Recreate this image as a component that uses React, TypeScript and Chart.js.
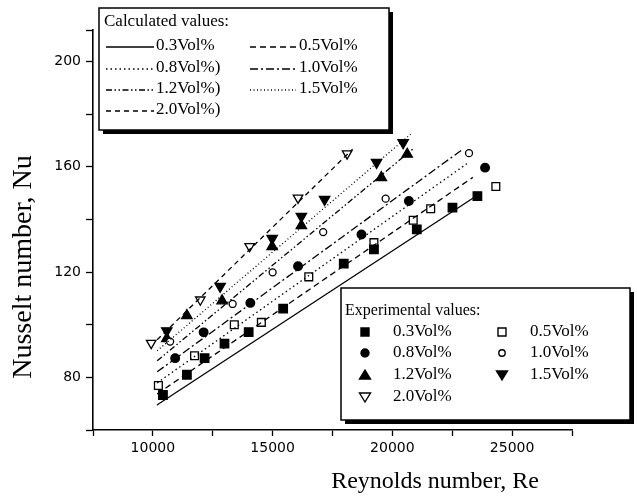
import React, { useEffect, useRef } from 'react';
import { Chart, registerables } from 'chart.js';

Chart.register(...registerables);

const SERIF = '"Liberation Serif", "Times New Roman", serif';
const SANS = '"DejaVu Sans", sans-serif';

// ---- Experimental values (Re, Nu) ----
const re03 = [10420, 11420, 12160, 12990, 14000, 15440, 17970, 19230, 21020, 22510, 23550];
const nu03 = [73.3, 81.0, 87.3, 92.8, 97.2, 106.1, 123.2, 128.6, 136.2, 144.5, 148.9];

const re05 = [10230, 11740, 13400, 14530, 16510, 19230, 20870, 21600, 24320];
const nu05 = [76.9, 88.2, 100.0, 100.9, 118.2, 131.2, 139.7, 144.1, 152.5];

const re08 = [10930, 12120, 14070, 16060, 18710, 20690, 23870];
const nu08 = [87.3, 97.1, 108.3, 122.2, 134.3, 147.0, 159.7];

const re10 = [10720, 13330, 15000, 17110, 19720, 23200];
const nu10 = [93.6, 107.9, 119.9, 135.2, 147.9, 165.2];

const re12 = [10580, 11420, 12890, 14980, 16200, 19540, 20620];
const nu12 = [94.7, 103.5, 109.1, 129.7, 137.7, 155.9, 164.8];

const re15 = [10580, 12810, 14980, 16200, 17170, 19340, 20450];
const nu15 = [97.7, 114.6, 132.8, 141.2, 147.6, 161.7, 169.2];

const re20 = [9930, 11980, 14040, 16060, 18110];
const nu20 = [93.0, 109.5, 129.8, 148.2, 165.0];

// ---- Calculated values (line end points) ----
const calcRe03 = [10170, 23550];
const calcNu03 = [69.5, 149.2];
const calcRe05 = [10180, 23360];
const calcNu05 = [73.7, 156.0];
const calcRe08 = [10180, 23190];
const calcNu08 = [77.9, 161.7];
const calcRe10 = [10180, 22940];
const calcNu10 = [82.1, 166.7];
const calcRe12 = [10180, 20850];
const calcNu12 = [86.3, 166.7];
const calcRe15 = [10180, 20760];
const calcNu15 = [90.1, 172.4];
const calcRe20 = [10180, 18340];
const calcNu20 = [94.3, 166.7];

// ---- Axis ticks ----
const xMin = 7500;
const xMax = 27500;
const xStep = 2500;
const xLabels = [10000, 15000, 20000, 25000];
const yMin = 60;
const yMax = 212;
const yStep = 20;
const yLabels = [80, 120, 160, 200];

// ---- Legend texts ----
const calcTitle = 'Calculated values:';
const calcCol1 = ['0.3Vol%', '0.8Vol%)', '1.2Vol%)', '2.0Vol%)'];
const calcCol2 = ['0.5Vol%', '1.0Vol%', '1.5Vol%'];
const expTitle = 'Experimental values:';
const expCol1 = ['0.3Vol%', '0.8Vol%', '1.2Vol%', '2.0Vol%'];
const expCol2 = ['0.5Vol%', '1.0Vol%', '1.5Vol%'];

// ---- Styles ----
const DASH: Record<string, number[]> = {
  c03: [],
  c05: [6, 4],
  c08: [1.5, 3],
  c10: [8, 3, 2, 3],
  c12: [6, 2.5, 1.5, 2.5, 1.5, 2.5],
  c15: [1, 2.5],
  c20: [5, 4],
};

const pts = (xs: number[], ys: number[]) => xs.map((x, i) => ({ x, y: ys[i] }));

type MarkerKind = 'sq' | 'osq' | 'ci' | 'oci' | 'tu' | 'td' | 'otd';

function drawMarker(ctx: CanvasRenderingContext2D, kind: MarkerKind, x: number, y: number, r: number) {
  ctx.save();
  ctx.lineWidth = 1.4;
  ctx.strokeStyle = '#000';
  ctx.fillStyle = '#000';
  ctx.setLineDash([]);
  ctx.beginPath();
  if (kind === 'sq' || kind === 'osq') {
    ctx.rect(x - r, y - r, 2 * r, 2 * r);
  } else if (kind === 'ci' || kind === 'oci') {
    ctx.arc(x, y, r, 0, Math.PI * 2);
  } else if (kind === 'tu') {
    ctx.moveTo(x, y - r);
    ctx.lineTo(x + r * 1.1, y + r * 0.8);
    ctx.lineTo(x - r * 1.1, y + r * 0.8);
    ctx.closePath();
  } else {
    ctx.moveTo(x, y + r);
    ctx.lineTo(x + r * 1.1, y - r * 0.8);
    ctx.lineTo(x - r * 1.1, y - r * 0.8);
    ctx.closePath();
  }
  if (kind === 'osq' || kind === 'oci' || kind === 'otd') {
    ctx.fillStyle = '#fff';
    ctx.fill();
    ctx.stroke();
  } else {
    ctx.fill();
    ctx.stroke();
  }
  ctx.restore();
}

function drawBox(ctx: CanvasRenderingContext2D, x: number, y: number, w: number, h: number) {
  ctx.save();
  ctx.fillStyle = '#000';
  ctx.fillRect(x + 4, y + 4, w, h);
  ctx.fillStyle = '#fff';
  ctx.fillRect(x, y, w, h);
  ctx.strokeStyle = '#000';
  ctx.lineWidth = 1.5;
  ctx.strokeRect(x, y, w, h);
  ctx.restore();
}

const decorPlugin = {
  id: 'decor',
  beforeDraw(chart: any) {
    const ctx = chart.ctx as CanvasRenderingContext2D;
    ctx.save();
    ctx.fillStyle = '#fff';
    ctx.fillRect(0, 0, chart.width, chart.height);
    ctx.restore();
  },
  afterDraw(chart: any) {
    const ctx = chart.ctx as CanvasRenderingContext2D;
    ctx.save();
    ctx.fillStyle = '#000';
    ctx.textBaseline = 'middle';

    // axis titles
    ctx.textAlign = 'center';
    ctx.font = `24px ${SERIF}`;
    ctx.fillText('Reynolds number, Re', 435, 482);
    ctx.save();
    ctx.translate(24, 267);
    ctx.rotate(-Math.PI / 2);
    ctx.font = `28px ${SERIF}`;
    ctx.fillText('Nusselt number, Nu', 0, 0);
    ctx.restore();

    // calculated legend
    drawBox(ctx, 99, 8, 290, 122);
    ctx.textAlign = 'left';
    ctx.fillStyle = '#000';
    ctx.font = `17px ${SERIF}`;
    ctx.fillText(calcTitle, 104, 22);
    const rows = [46, 68, 89, 110];
    const col1Keys = ['c03', 'c08', 'c12', 'c20'];
    const col2Keys = ['c05', 'c10', 'c15'];
    ctx.strokeStyle = '#000';
    ctx.lineWidth = 1.3;
    calcCol1.forEach((t, i) => {
      ctx.setLineDash(DASH[col1Keys[i]]);
      ctx.beginPath();
      ctx.moveTo(106, rows[i] + 1);
      ctx.lineTo(154, rows[i] + 1);
      ctx.stroke();
      ctx.setLineDash([]);
      ctx.fillText(t, 156, rows[i]);
    });
    calcCol2.forEach((t, i) => {
      ctx.setLineDash(DASH[col2Keys[i]]);
      ctx.beginPath();
      ctx.moveTo(250, rows[i] + 1);
      ctx.lineTo(296, rows[i] + 1);
      ctx.stroke();
      ctx.setLineDash([]);
      ctx.fillText(t, 299, rows[i]);
    });

    // experimental legend
    drawBox(ctx, 341, 288, 289, 132);
    ctx.fillStyle = '#000';
    ctx.font = `16px ${SERIF}`;
    ctx.fillText(expTitle, 345, 311);
    const erows = [332, 353, 375, 397];
    const m1: [MarkerKind, number][] = [['sq', 4], ['ci', 4], ['tu', 5], ['otd', 5]];
    const m2: [MarkerKind, number][] = [['osq', 4], ['oci', 3.2], ['td', 5]];
    ctx.font = `17px ${SERIF}`;
    expCol1.forEach((t, i) => {
      drawMarker(ctx, m1[i][0], 365, erows[i], m1[i][1]);
      ctx.fillStyle = '#000';
      ctx.fillText(t, 393, erows[i]);
    });
    expCol2.forEach((t, i) => {
      drawMarker(ctx, m2[i][0], 502, erows[i], m2[i][1]);
      ctx.fillStyle = '#000';
      ctx.fillText(t, 530, erows[i]);
    });
    ctx.restore();
  },
};

function lineSet(xs: number[], ys: number[], key: string) {
  return {
    type: 'scatter' as const,
    data: pts(xs, ys),
    showLine: true,
    borderColor: '#000',
    borderWidth: 1.3,
    borderDash: DASH[key],
    pointRadius: 0,
    fill: false,
  };
}

function markerSet(xs: number[], ys: number[], style: string, open: boolean, radius: number, rotation = 0) {
  return {
    type: 'scatter' as const,
    data: pts(xs, ys),
    showLine: false,
    pointStyle: style,
    rotation,
    pointRadius: radius,
    pointBorderWidth: 1.3,
    pointBorderColor: '#000',
    pointBackgroundColor: open ? '#fff' : '#000',
  };
}

export default function App() {
  const ref = useRef<HTMLCanvasElement | null>(null);

  useEffect(() => {
    if (!ref.current) return;
    const chart = new Chart(ref.current, {
      type: 'scatter',
      data: {
        datasets: [
          lineSet(calcRe03, calcNu03, 'c03'),
          lineSet(calcRe05, calcNu05, 'c05'),
          lineSet(calcRe08, calcNu08, 'c08'),
          lineSet(calcRe10, calcNu10, 'c10'),
          lineSet(calcRe12, calcNu12, 'c12'),
          lineSet(calcRe15, calcNu15, 'c15'),
          lineSet(calcRe20, calcNu20, 'c20'),
          markerSet(re03, nu03, 'rect', false, 6),
          markerSet(re05, nu05, 'rect', true, 5.5),
          markerSet(re08, nu08, 'circle', false, 4.3),
          markerSet(re10, nu10, 'circle', true, 3.5),
          markerSet(re12, nu12, 'triangle', false, 6),
          markerSet(re15, nu15, 'triangle', false, 6, 180),
          markerSet(re20, nu20, 'triangle', true, 5.5, 180),
        ] as any,
      },
      options: {
        responsive: false,
        animation: false,
        devicePixelRatio: 1,
        layout: { padding: { top: 30, right: 65, left: 0, bottom: 0 } },
        plugins: {
          legend: { display: false },
          tooltip: { enabled: false },
        },
        scales: {
          x: {
            type: 'linear',
            min: xMin,
            max: xMax,
            afterFit: (s: any) => {
              s.height = 74;
            },
            ticks: {
              stepSize: xStep,
              autoSkip: false,
              maxRotation: 0,
              padding: 4,
              color: '#000',
              font: { family: SANS, size: 14 },
              callback: (v: any) => (xLabels.includes(Number(v)) ? String(v) : ''),
            },
            grid: {
              drawOnChartArea: false,
              drawTicks: true,
              tickLength: 6,
              tickColor: '#000',
              tickWidth: 1.3,
              color: '#000',
            },
            border: { display: true, color: '#000', width: 1.6 },
          },
          y: {
            type: 'linear',
            min: yMin,
            max: yMax,
            afterFit: (s: any) => {
              s.width = 93;
            },
            ticks: {
              stepSize: yStep,
              autoSkip: false,
              padding: 5,
              color: '#000',
              font: { family: SANS, size: 14 },
              callback: (v: any) => (yLabels.includes(Number(v)) ? String(v) : ''),
            },
            grid: {
              drawOnChartArea: false,
              drawTicks: true,
              tickLength: 7,
              tickColor: '#000',
              tickWidth: 1.3,
              color: '#000',
            },
            border: { display: true, color: '#000', width: 1.6 },
          },
        },
      } as any,
      plugins: [decorPlugin],
    });
    return () => chart.destroy();
  }, []);

  return (
    <div style={{ position: 'absolute', left: 0, top: 0, width: 637, height: 504, background: '#fff' }}>
      <canvas ref={ref} width={637} height={504} style={{ display: 'block' }} />
    </div>
  );
}
